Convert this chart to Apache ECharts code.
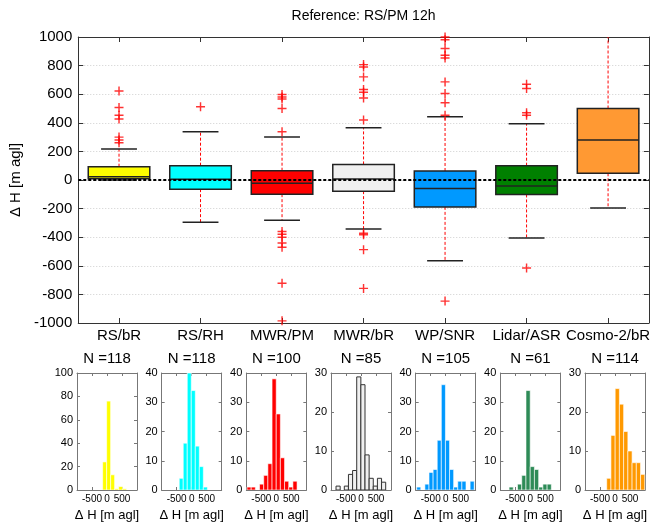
<!DOCTYPE html>
<html><head><meta charset="utf-8">
<script src="https://cdn.jsdelivr.net/npm/echarts@6/dist/echarts.min.js"></script>
<style>html,body{margin:0;padding:0;background:#fff}#c{width:653px;height:523px}</style>
</head><body><div id="c"></div>
<script>
// ---------- data ----------
const categories = ['RS/bR','RS/RH','MWR/PM','MWR/bR','WP/SNR','Lidar/ASR','Cosmo-2/bR'];
const whiskerLow  = [0, -296, -282, -343, -565, -405, -195];
const quart1      = [8, -64, -99, -78, -188, -101, 47];
const medians     = [23, 5, -22, 7, -59, -42, 279];
const quart3      = [93, 100, 65, 109, 63, 100, 500];
const whiskerHigh = [216, 337, 300, 365, 442, 393, 1150];
const outlierValues = [
  [623, 507, 453, 426, 300, 280, 260],
  [512],
  [598, 581, 567, 500, 337, -360, -380, -400, -440, -470, -722, -985],
  [807, 790, 721, 633, 614, 574, 419, -372, -383, -487, -758],
  [1000, 981, 919, 872, 853, 686, 605, 540, 453, -847],
  [670, 640, 470, 453, -616],
  []
];
const nCounts = [118, 118, 100, 85, 105, 61, 114];
const histStart = [-145, -415, -977, -833, -967, -710, -277];
const histWidth = [133, 134, 139, 138, 137, 141, 141];
const histCounts = [
  [24, 76, 13, 1, 3, 1],
  [4, 16, 40, 34, 15, 8, 1],
  [1, 1, 0, 2, 5, 9, 38, 26, 11, 3, 1, 3],
  [1, 0, 1, 4, 5, 29, 27, 9, 3, 1, 3, 2],
  [1, 0, 2, 6, 7, 17, 36, 17, 7, 1, 3, 3, 0, 3],
  [1, 0, 2, 5, 34, 8, 7, 1, 2, 2],
  [3, 14, 26, 22, 15, 10, 7, 7, 4]
];
const histYMax = [100, 40, 40, 30, 40, 40, 30];
const histYStep = [20, 10, 10, 10, 10, 10, 10];
const histXTicks = [-1000, 1000, 500];
const mainTitle = 'Reference: RS/PM 12h';
const axisName = 'Δ H [m agl]';

// ---------- styles ----------
const FONT = '"Liberation Sans", Arial, Helvetica, sans-serif';
const boxColors  = ['#ffff00','#00ffff','#ff0000','#f0f0f0','#0099ff','#008000','#ff9933'];
const histColors = ['#ffff00','#00ffff','#ff0000','#f0f0f0','#0099ff','#2e8b57','#ff9900'];
const histEdge   = ['#ffffff','#ffffff','#ffffff','#333333','#ffffff','#ffffff','#ffffff'];

const chart = echarts.init(document.getElementById('c'), null, {renderer:'canvas'});

const grids = [{left:77, right:3, top:37, bottom:200}];
const histLeft0 = 77, histStep = 84.67, histW = 60;
for (let i = 0; i < 7; i++) grids.push({left: histLeft0 + histStep*i, width: histW, top: 373, height: 117});

const xAxes = [], yAxes = [];
const mainLine = {show:true, onZero:false, lineStyle:{color:'#333', width:1}};
xAxes.push({type:'category', gridIndex:0, data:categories, boundaryGap:true, position:'bottom',
  axisLine:mainLine, axisTick:{show:true, inside:true, alignWithLabel:true, length:5, interval:0, lineStyle:{color:'#333'}},
  axisLabel:{color:'#000', fontSize:15, fontFamily:FONT, margin:5, interval:0}, splitLine:{show:false}});
xAxes.push({type:'category', gridIndex:0, data:categories, boundaryGap:true, position:'top',
  axisLine:mainLine, axisTick:{show:true, inside:true, alignWithLabel:true, length:5, interval:0, lineStyle:{color:'#333'}},
  axisLabel:{show:false, interval:0}, splitLine:{show:false}});
yAxes.push({type:'value', gridIndex:0, min:-1000, max:1000, interval:200, position:'left',
  axisLine:mainLine, axisTick:{show:true, inside:true, length:5, lineStyle:{color:'#333'}},
  axisLabel:{color:'#000', fontSize:15, fontFamily:FONT, margin:6, formatter: v => String(v)},
  splitLine:{show:true, lineStyle:{color:'#cfcfcf', type:[1,2], width:1}},
  name:axisName, nameLocation:'middle', nameGap:52, nameTextStyle:{color:'#000', fontSize:15, fontFamily:FONT}});
yAxes.push({type:'value', gridIndex:0, min:-1000, max:1000, interval:200, position:'right',
  axisLine:mainLine, axisTick:{show:true, inside:true, length:5, lineStyle:{color:'#333'}},
  axisLabel:{show:false}, splitLine:{show:false}});

const histLine = {show:true, onZero:false, lineStyle:{color:'#777', width:1}};
for (let i = 0; i < 7; i++) {
  const g = i + 1;
  xAxes.push({type:'value', gridIndex:g, min:histXTicks[0], max:histXTicks[1], interval:histXTicks[2], position:'bottom',
    axisLine:histLine, axisTick:{show:true, inside:true, length:3, lineStyle:{color:'#777'}},
    axisLabel:{color:'#000', fontSize:10, fontFamily:FONT, margin:4, showMinLabel:true, showMaxLabel:true,
      formatter: v => (Math.abs(v) >= 1000 ? '' : String(v))},
    splitLine:{show:false},
    name:axisName, nameLocation:'middle', nameGap:19, nameTextStyle:{color:'#000', fontSize:13, fontFamily:FONT}});
  xAxes.push({type:'value', gridIndex:g, min:histXTicks[0], max:histXTicks[1], interval:histXTicks[2], position:'top',
    axisLine:histLine, axisTick:{show:true, inside:true, length:3, lineStyle:{color:'#777'}},
    axisLabel:{show:false}, splitLine:{show:false}});
  yAxes.push({type:'value', gridIndex:g, min:0, max:histYMax[i], interval:histYStep[i], position:'left',
    axisLine:histLine, axisTick:{show:true, inside:true, length:3, lineStyle:{color:'#777'}},
    axisLabel:{color:'#000', fontSize:11, fontFamily:FONT, margin:4}, splitLine:{show:false}});
  yAxes.push({type:'value', gridIndex:g, min:0, max:histYMax[i], interval:histYStep[i], position:'right',
    axisLine:histLine, axisTick:{show:true, inside:true, length:3, lineStyle:{color:'#777'}},
    axisLabel:{show:false}, splitLine:{show:false}});
}

const series = [];
// box plot
series.push({
  type:'custom', xAxisIndex:0, yAxisIndex:0, clip:true, z:3,
  data: categories.map((c, i) => [i, whiskerLow[i], quart1[i], medians[i], quart3[i], whiskerHigh[i]]),
  renderItem: function(params, api) {
    const i = api.value(0);
    const lo = api.coord([i, api.value(1)]), a = api.coord([i, api.value(2)]),
          m = api.coord([i, api.value(3)]), b = api.coord([i, api.value(4)]),
          hi = api.coord([i, api.value(5)]);
    const band = api.size([1, 0])[0];
    const bw = band * 0.755, cw = band * 0.44;
    const x = a[0];
    const dash = {stroke:'#ff0000', lineWidth:1, lineDash:[3,2]};
    const cap = {stroke:'#222', lineWidth:1.5};
    return {type:'group', children:[
      {type:'line', shape:{x1:x, y1:a[1], x2:x, y2:lo[1]}, style:dash},
      {type:'line', shape:{x1:x, y1:b[1], x2:x, y2:hi[1]}, style:dash},
      {type:'line', shape:{x1:x-cw/2, y1:lo[1], x2:x+cw/2, y2:lo[1]}, style:cap},
      {type:'line', shape:{x1:x-cw/2, y1:hi[1], x2:x+cw/2, y2:hi[1]}, style:cap},
      {type:'rect', shape:{x:x-bw/2, y:b[1], width:bw, height:a[1]-b[1]},
        style:{fill:boxColors[i], stroke:'#222', lineWidth:1.5}},
      {type:'line', shape:{x1:x-bw/2, y1:m[1], x2:x+bw/2, y2:m[1]}, style:{stroke:'#222', lineWidth:1.5}}
    ]};
  }
});
// outliers
const outData = [];
outlierValues.forEach((arr, i) => arr.forEach(v => outData.push([i, v])));
series.push({
  type:'scatter', xAxisIndex:0, yAxisIndex:0, z:4, data:outData,
  symbol:'path://M4.2,0H5.8V4.2H10V5.8H5.8V10H4.2V5.8H0V4.2H4.2Z', symbolSize:9,
  itemStyle:{color:'#ff0000'},
  markLine:{silent:true, symbol:'none', label:{show:false}, z:5,
    lineStyle:{color:'#000', width:2, type:[3,2]}, data:[{yAxis:0}]}
});
// histograms
for (let i = 0; i < 7; i++) {
  const d = [];
  histCounts[i].forEach((c, k) => { if (c > 0) d.push([histStart[i] + k*histWidth[i], histStart[i] + (k+1)*histWidth[i], c]); });
  series.push({
    type:'custom', xAxisIndex:2 + 2*i, yAxisIndex:2 + 2*i, clip:true, data:d,
    renderItem: function(params, api) {
      const p0 = api.coord([api.value(0), api.value(2)]);
      const p1 = api.coord([api.value(1), 0]);
      return {type:'rect', shape:{x:p0[0], y:p0[1], width:p1[0]-p0[0], height:p1[1]-p0[1]},
        style:{fill:histColors[i], stroke:histEdge[i], lineWidth: i === 3 ? 1 : 0.6}};
    }
  });
}

const graphics = [{type:'text', x:363.5, y:16, style:{text:mainTitle, fontSize:14, fontFamily:FONT, fill:'#000', textAlign:'center', textVerticalAlign:'middle'}}];
for (let i = 0; i < 7; i++) {
  graphics.push({type:'text', x: histLeft0 + histStep*i + histW/2, y:359,
    style:{text:'N =' + nCounts[i], fontSize:15, fontFamily:FONT, fill:'#000', textAlign:'center', textVerticalAlign:'middle'}});
}

chart.setOption({
  animation:false,
  backgroundColor:'#fff',
  textStyle:{fontFamily:FONT},
  grid:grids, xAxis:xAxes, yAxis:yAxes, series:series, graphic:graphics
});
</script></body></html>
